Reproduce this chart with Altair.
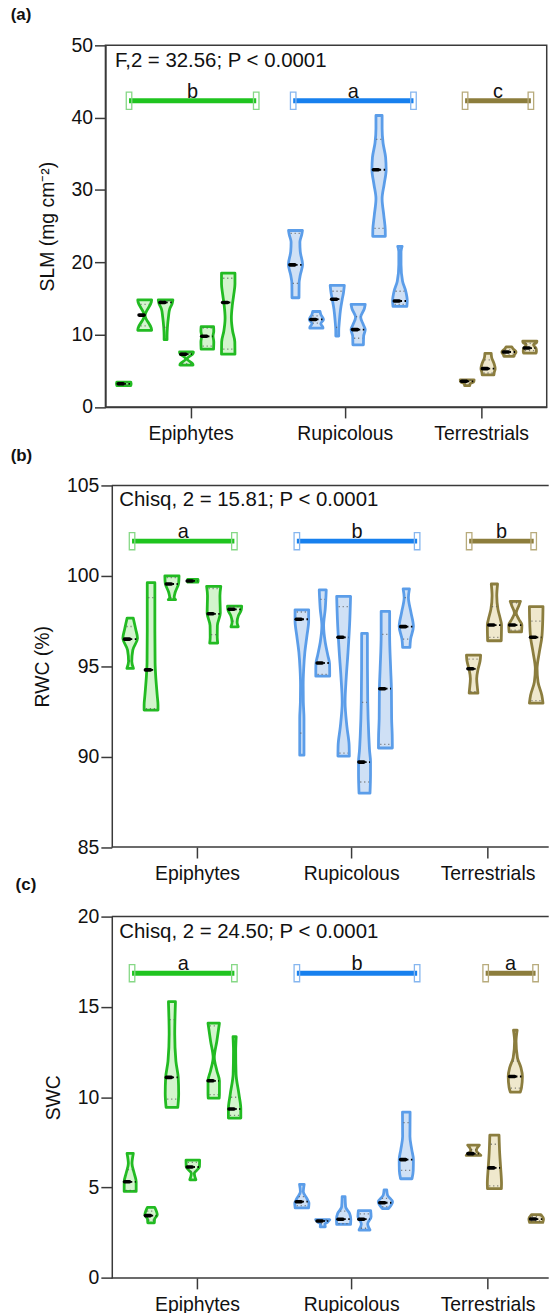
import altair as alt
import numpy as np
import pandas as pd

FONT = "Liberation Sans"
AX = "#3a3a3a"
TXT = "#111111"
SLOT_PX = 21.0      # pixels per violin slot on the x scale
HALF_W = 0.35       # max violin half-width, in slots

GROUPS = ["Epiphytes", "Rupicolous", "Terrestrials"]
GROUP_SIZES = [6, 6, 4]
VIOLIN_POS = [0.88, 1.88, 2.88, 3.88, 4.88, 5.88,
              9.1, 10.1, 11.1, 12.1, 13.1, 14.1,
              17.32, 18.32, 19.32, 20.32]
GROUP_TICKS = [4.08, 11.46, 17.99]

OUTLINE = ["#22bb22", "#5b9de9", "#8b7d3e"]
FILL = ["#d3f4cd", "#cfe0f5", "#efe8cd"]
BRACKET = ["#1fc41f", "#1780ee", "#8c7d3c"]
CAP = ["#86d886", "#86b6ef", "#b8ab7c"]

# ---------------- (a) SLM ----------------
SLM_Y = [
    [3.45, 3.2, 2.95],
    [14.8, 14.5, 12.65, 10.9, 10.6],
    [14.8, 14.3, 13.5, 12.5, 11.0, 9.8, 9.3],
    [7.6, 7.4, 6.65, 5.95, 5.8],
    [11.1, 10.5, 9.8, 9.0, 8.0],
    [18.5, 17.0, 15.5, 14.0, 12.3, 10.5, 9.0, 7.3],
    [24.4, 23.8, 22.8, 21.5, 19.7, 18.2, 17.2, 15.1],
    [13.2, 12.8, 12.1, 11.5, 11.0, 10.9],
    [16.8, 15.8, 14.9, 13.5, 12.0, 10.5, 9.8],
    [14.2, 13.6, 12.4, 11.4, 10.7, 9.8, 8.6],
    [40.3, 38.5, 36.5, 34.5, 32.8, 30.8, 28.8, 26.5, 24.5, 23.6],
    [22.2, 21.5, 19.7, 17.4, 16.0, 14.7, 13.9],
    [3.75, 3.5, 3.2, 2.95],
    [7.4, 6.8, 6.0, 5.3, 4.8, 4.45],
    [8.3, 8.0, 7.6, 7.2, 7.0],
    [9.1, 8.9, 8.6, 8.1, 7.7, 7.45],
]
SLM_W = [
    [0.95, 1.0, 0.95],
    [0.95, 0.9, 0.05, 0.9, 0.95],
    [1.0, 0.9, 0.55, 0.4, 0.25, 0.2, 0.2],
    [0.95, 0.9, 0.1, 0.85, 0.9],
    [0.85, 0.88, 0.78, 0.88, 0.85],
    [0.92, 0.92, 0.75, 0.55, 0.43, 0.6, 0.9, 0.92],
    [0.95, 0.85, 0.6, 0.65, 0.97, 0.65, 0.5, 0.48],
    [0.5, 0.6, 0.97, 0.6, 0.9, 0.9],
    [0.97, 0.85, 0.68, 0.45, 0.3, 0.2, 0.2],
    [0.97, 0.85, 0.35, 0.7, 0.97, 0.75, 0.72],
    [0.42, 0.42, 0.55, 0.9, 0.97, 0.7, 0.42, 0.65, 0.85, 0.86],
    [0.3, 0.15, 0.15, 0.36, 0.8, 1.0, 0.95],
    [0.95, 0.9, 0.4, 0.35],
    [0.43, 0.5, 0.82, 0.97, 0.85, 0.8],
    [0.4, 0.6, 0.97, 0.75, 0.7],
    [0.97, 0.9, 0.5, 0.85, 0.9, 0.85],
]
SLM_MED = [3.2, 12.7, 14.45, 7.3, 9.77, 14.45, 19.65, 12.1, 14.9, 10.7, 32.8, 14.65, 3.55, 5.3, 7.6, 8.15]
SLM_Q1 = [3.0, 11.2, 11.0, 6.0, 8.4, 8.0, 17.1, 11.6, 11.0, 9.5, 24.7, 14.2, 3.2, 4.7, 7.3, 7.8]
SLM_Q3 = [3.4, 14.2, 14.7, 7.5, 10.9, 17.8, 24.0, 12.6, 16.0, 12.5, 37.0, 16.0, 3.7, 6.5, 7.9, 8.8]

# ---------------- (b) RWC ----------------
RWC_Y = [
    [97.66, 97.06, 96.55, 95.9, 95.26, 94.88],
    [99.62, 97.0, 95.2, 94.5, 93.4, 92.85, 92.58],
    [100.0, 99.6, 99.07, 98.8, 98.68],
    [99.8, 99.72, 99.65],
    [99.42, 98.9, 97.95, 97.25, 96.6, 96.28],
    [98.32, 98.1, 97.8, 97.44, 97.18],
    [98.12, 97.5, 96.7, 95.78, 94.86, 93.94, 93.03, 92.11, 90.08],
    [99.22, 98.16, 97.24, 96.33, 95.6, 95.14, 94.68, 94.45],
    [98.87, 97.6, 95.78, 94.4, 93.03, 91.66, 90.65, 90.03],
    [96.82, 94.86, 93.03, 91.2, 90.29, 89.73, 89.0, 87.98],
    [98.04, 96.7, 94.86, 93.76, 92.11, 91.2, 90.48],
    [99.28, 98.8, 98.0, 97.2, 96.5, 96.04],
    [95.61, 95.3, 94.86, 94.31, 93.76, 93.51],
    [99.55, 98.9, 98.16, 97.6, 97.28, 96.7, 96.41],
    [98.59, 98.35, 97.95, 97.6, 97.28, 96.9],
    [98.3, 97.6, 96.6, 95.78, 94.86, 94.13, 93.4, 92.96],
]
RWC_W = [
    [0.42, 0.75, 1.0, 0.36, 0.22, 0.45],
    [0.52, 0.52, 0.55, 0.63, 0.84, 0.95, 0.95],
    [0.97, 0.92, 0.43, 0.3, 0.5],
    [0.7, 0.72, 0.68],
    [0.97, 0.85, 0.9, 0.5, 0.48, 0.55],
    [0.97, 0.9, 0.52, 0.34, 0.5],
    [0.93, 0.93, 0.7, 0.41, 0.25, 0.18, 0.2, 0.29, 0.29],
    [0.48, 0.34, 0.12, 0.34, 0.7, 0.93, 0.95, 0.95],
    [0.95, 0.85, 0.6, 0.36, 0.2, 0.45, 0.75, 0.78],
    [0.39, 0.4, 0.44, 0.58, 0.7, 0.82, 0.82, 0.75],
    [0.58, 0.58, 0.72, 0.82, 0.85, 0.93, 0.95],
    [0.43, 0.29, 0.63, 0.97, 0.59, 0.5],
    [0.97, 0.9, 0.63, 0.43, 0.54, 0.6],
    [0.43, 0.32, 0.48, 0.82, 0.97, 0.95, 0.93],
    [0.7, 0.48, 0.12, 0.48, 0.9, 0.85],
    [0.93, 0.9, 0.77, 0.43, 0.12, 0.25, 0.77, 0.93],
]
RWC_MED = [96.5, 94.8, 99.55, 99.72, 97.9, 98.15, 97.6, 95.18, 96.6, 89.7, 93.76, 97.19, 94.86, 97.28, 97.28, 96.6]
RWC_Q1 = [95.3, 92.65, 98.8, 99.68, 96.75, 97.5, 91.3, 94.55, 90.2, 88.6, 90.68, 96.5, 93.6, 96.6, 97.0, 93.1]
RWC_Q3 = [97.2, 98.8, 99.9, 99.78, 99.3, 98.3, 98.0, 98.7, 98.3, 93.0, 96.76, 98.8, 95.4, 98.3, 98.5, 97.5]

# ---------------- (c) SWC ----------------
SWC_Y = [
    [6.89, 6.33, 5.78, 5.32, 4.79],
    [3.9, 3.67, 3.49, 3.25, 3.05],
    [15.29, 13.5, 12.0, 11.1, 10.2, 9.44],
    [6.52, 6.14, 5.78, 5.43],
    [14.1, 13.11, 12.2, 11.47, 10.91, 10.2, 9.95],
    [13.35, 12.56, 11.28, 10.18, 9.35, 8.85],
    [5.18, 4.77, 4.4, 4.13, 3.88],
    [3.22, 3.1, 2.98, 2.83],
    [4.5, 3.94, 3.57, 3.25, 2.96],
    [3.72, 3.39, 2.99, 2.65],
    [4.87, 4.58, 4.22, 3.84],
    [9.18, 7.83, 7.1, 6.55, 5.95, 5.49],
    [7.35, 7.06, 6.78],
    [7.9, 6.9, 6.09, 5.21, 4.94],
    [13.71, 13.1, 12.19, 11.64, 11.15, 10.54, 10.29],
    [3.5, 3.26, 3.07],
]
SWC_W = [
    [0.43, 0.25, 0.56, 0.82, 0.82],
    [0.5, 0.75, 0.85, 0.48, 0.45],
    [0.48, 0.38, 0.54, 0.86, 0.92, 0.8],
    [0.93, 0.9, 0.2, 0.42],
    [0.78, 0.43, 0.08, 0.43, 0.78, 0.78, 0.75],
    [0.22, 0.15, 0.2, 0.59, 0.85, 0.85],
    [0.32, 0.2, 0.68, 0.97, 0.92],
    [0.97, 0.7, 0.3, 0.35],
    [0.2, 0.27, 0.82, 0.98, 0.95],
    [0.84, 0.9, 0.43, 0.75],
    [0.18, 0.29, 0.98, 0.42],
    [0.52, 0.5, 0.75, 0.97, 0.95, 0.78],
    [0.8, 0.38, 1.0],
    [0.63, 0.72, 0.85, 0.97, 0.95],
    [0.25, 0.1, 0.29, 0.77, 0.97, 0.85, 0.68],
    [0.65, 1.0, 0.9],
]
SWC_MED = [5.32, 3.45, 11.1, 6.14, 10.91, 9.35, 4.22, 3.15, 3.25, 3.25, 4.16, 6.55, 6.88, 6.09, 11.15, 3.26]
SWC_Q1 = [4.85, 3.2, 9.9, 5.9, 10.15, 9.0, 4.0, 3.0, 3.0, 2.75, 3.95, 5.95, 6.8, 5.1, 10.5, 3.15]
SWC_Q3 = [6.0, 3.7, 14.3, 6.4, 13.95, 10.0, 4.5, 3.2, 3.7, 3.55, 4.4, 8.6, 7.1, 7.4, 12.0, 3.4]

# ---------------- group brackets & letters ----------------
SLM_BR_Y, SLM_BR_X1, SLM_BR_X2, SLM_LET = 42.35, [1.13, 8.99, 17.22], [7.22, 14.75, 20.37], ["b", "a", "c"]
RWC_BR_Y, RWC_BR_X1, RWC_BR_X2, RWC_LET = 101.92, [0.97, 8.86, 17.11], [5.87, 14.62, 20.2], ["a", "b", "b"]
SWC_BR_Y, SWC_BR_X1, SWC_BR_X2, SWC_LET = 16.87, [0.97, 8.86, 17.9], [5.87, 14.62, 20.29], ["a", "b", "a"]

SLM_NOTE = "F,2 = 32.56; P < 0.0001"
RWC_NOTE = "Chisq, 2 = 15.81; P < 0.0001"
SWC_NOTE = "Chisq, 2 = 24.50; P < 0.0001"

group_of = [g for g, n in zip(GROUPS, GROUP_SIZES) for _ in range(n)]
mid1 = (GROUP_TICKS[0] + GROUP_TICKS[1]) / 2
mid2 = (GROUP_TICKS[1] + GROUP_TICKS[2]) / 2
LABEL_EXPR = (f"datum.value < {mid1} ? '{GROUPS[0]}' : "
              f"(datum.value < {mid2} ? '{GROUPS[1]}' : '{GROUPS[2]}')")


def width_at(yl, wl, v):
    order = np.argsort(yl)
    return float(np.interp(v, np.array(yl)[order], np.array(wl)[order]))


def make_panel(label, ytitle, ydomain, yticks, ys, ws, med, q1, q3,
               br_y, br_x1, br_x2, letters, note, note_x, note_y,
               width, height, shift, title_dx, title_offset, boxed, bottom_extra):
    vrows = []
    for i, (yl, wl) in enumerate(zip(ys, ws)):
        for y, w in sorted(zip(yl, wl)):
            vrows.append(dict(vid=i, group=group_of[i], c=VIOLIN_POS[i], y=y, w=w))
    vdf = pd.DataFrame(vrows)

    mrows, qrows = [], []
    for i in range(len(med)):
        c = VIOLIN_POS[i]
        hm = width_at(ys[i], ws[i], med[i]) * HALF_W
        mrows.append(dict(y=med[i], xa=c - 0.27, xb=c - 0.03, xd1=c + 0.03, xd2=c + 0.85 * hm + 0.02))
        for q in (q1[i], q3[i]):
            hq = width_at(ys[i], ws[i], q) * HALF_W
            qrows.append(dict(y=q, xa=c - 0.75 * hq, xb=c + 0.75 * hq))
    mdf = pd.DataFrame(mrows)
    qdf = pd.DataFrame(qrows)

    bdf = pd.DataFrame(dict(group=GROUPS, x1=br_x1, x2=br_x2, y=[br_y] * 3,
                            xm=[(a + b) / 2 for a, b in zip(br_x1, br_x2)], letter=letters))
    cdf = pd.DataFrame(dict(group=GROUPS * 2, x=br_x1 + br_x2, y=[br_y] * 6))
    ndf = pd.DataFrame(dict(x=[note_x], y=[note_y], t=[note]))

    x0 = -shift / SLOT_PX
    x1 = x0 + width / SLOT_PX
    fdf = pd.DataFrame(dict(xa=[0, 0], xb=[x1, x1], y=list(ydomain)))  # frame lines (b, c)

    xscale = alt.Scale(domain=[x0, x1], nice=False, zero=False)
    yscale = alt.Scale(domain=ydomain, nice=False, zero=False)
    xaxis = alt.Axis(values=GROUP_TICKS, labelExpr=LABEL_EXPR, grid=False,
                     title=" " if bottom_extra else None, titleFontSize=bottom_extra or 10,
                     titlePadding=0,
                     domain=boxed,
                     tickSize=11, tickWidth=1.5, tickColor=AX, domainColor=AX, domainWidth=1.5,
                     labelFontSize=19.5, labelFont=FONT, labelColor=TXT, labelPadding=7,
                     labelOverlap=False, labelFlush=False)
    yaxis = alt.Axis(values=yticks, title=ytitle, grid=False, format="d", offset=-shift,
                     tickSize=11, tickWidth=1.5, tickColor=AX, domainColor=AX, domainWidth=1.5,
                     labelFontSize=19.5, labelFont=FONT, labelColor=TXT, labelPadding=2,
                     titleFontSize=19.5, titleFont=FONT, titleColor=TXT, titleFontWeight="normal",
                     titlePadding=14)

    def X(field):
        return alt.X(field, scale=xscale, axis=xaxis)

    def Y(field):
        return alt.Y(field, scale=yscale, axis=yaxis)

    violins = alt.Chart(vdf).transform_calculate(
        xl=f"datum.c - datum.w * {HALF_W}", xr=f"datum.c + datum.w * {HALF_W}"
    ).mark_area(orient="horizontal", interpolate="monotone", strokeWidth=2.8,
                strokeJoin="round").encode(
        x=X("xl:Q"),
        x2="xr:Q",
        y=Y("y:Q"),
        fill=alt.Fill("group:N", scale=alt.Scale(domain=GROUPS, range=FILL), legend=None),
        stroke=alt.Stroke("group:N", scale=alt.Scale(domain=GROUPS, range=OUTLINE), legend=None),
        detail="vid:N",
    )
    quart = alt.Chart(qdf).mark_rule(color="#555555", strokeWidth=1.3, strokeDash=[1.2, 2.8],
                                     opacity=0.7).encode(x=X("xa:Q"), x2="xb:Q", y=Y("y:Q"))
    med_dots = alt.Chart(mdf).mark_rule(color="#000000", strokeWidth=1.8,
                                        strokeDash=[1.5, 2.5]).encode(x=X("xd1:Q"), x2="xd2:Q", y=Y("y:Q"))
    med_dash = alt.Chart(mdf).mark_rule(color="#000000", strokeWidth=3.6, strokeCap="round").encode(
        x=X("xa:Q"), x2="xb:Q", y=Y("y:Q"))
    brackets = alt.Chart(bdf).mark_rule(strokeWidth=5).encode(
        x=X("x1:Q"), x2="x2:Q", y=Y("y:Q"),
        stroke=alt.Stroke("group:N", scale=alt.Scale(domain=GROUPS, range=BRACKET), legend=None))
    caps = alt.Chart(cdf).mark_point(shape="M-0.32,-1H0.32V1H-0.32Z", size=300, filled=False,
                                     strokeWidth=1.3, opacity=1).encode(
        x=X("x:Q"), y=Y("y:Q"),
        stroke=alt.Stroke("group:N", scale=alt.Scale(domain=GROUPS, range=CAP), legend=None))
    lets = alt.Chart(bdf).mark_text(dy=-3, baseline="alphabetic", fontSize=20, font=FONT,
                                    color=TXT).encode(x=X("xm:Q"), y=Y("y:Q"), text="letter:N")
    note_t = alt.Chart(ndf).mark_text(align="left", baseline="middle", fontSize=20.5, font=FONT,
                                      color=TXT).encode(x=X("x:Q"), y=Y("y:Q"), text="t:N")
    layers = [violins, quart, med_dots, med_dash, brackets, caps, lets, note_t]
    if not boxed:
        layers.append(alt.Chart(fdf).mark_rule(color=AX, strokeWidth=1.5).encode(
            x=X("xa:Q"), x2="xb:Q", y=Y("y:Q")))

    props = dict(width=width, height=height,
                 title=alt.TitleParams(text=label, anchor="start", frame="group", dx=title_dx,
                                       offset=title_offset, fontSize=17, fontWeight="bold",
                                       font=FONT, color=TXT, baseline="alphabetic"))
    if boxed:
        props["view"] = alt.ViewBackground(stroke=AX, strokeWidth=1.5)
    return alt.layer(*layers).resolve_scale(
        stroke="independent", fill="independent").properties(**props)


PAD_L = 9
ORIGIN = 104.3          # left edge of every panel's plot group
SHIFT_BC = 6.4          # (b) and (c) axes sit this much further right
pa = make_panel("(a)", "SLM (mg cm\u207b\u00b2)", [0, 50], [0, 10, 20, 30, 40, 50],
                SLM_Y, SLM_W, SLM_MED, SLM_Q1, SLM_Q3,
                SLM_BR_Y, SLM_BR_X1, SLM_BR_X2, SLM_LET, SLM_NOTE, 0.46, 47.9,
                443.7, 363.6, 0, -(ORIGIN - PAD_L), -2, True, 12)
pb = make_panel("(b)", "RWC (%)", [85, 105], [85, 90, 95, 100, 105],
                RWC_Y, RWC_W, RWC_MED, RWC_Q1, RWC_Q3,
                RWC_BR_Y, RWC_BR_X1, RWC_BR_X2, RWC_LET, RWC_NOTE, 0.36, 104.17,
                445.7, 363.6, SHIFT_BC, -(ORIGIN - PAD_L), -2, False, 0)
pc = make_panel("(c)", "SWC", [0, 20], [0, 5, 10, 15, 20],
                SWC_Y, SWC_W, SWC_MED, SWC_Q1, SWC_Q3,
                SWC_BR_Y, SWC_BR_X1, SWC_BR_X2, SWC_LET, SWC_NOTE, 0.36, 19.13,
                445.7, 363.3, SHIFT_BC, -(ORIGIN - 14), -0.7, False, 0)

chart = alt.vconcat(pa, pb, pc, spacing=-8.5).properties(
    padding={"left": PAD_L, "top": 2, "right": 0, "bottom": 0},
    background="white",
).configure_view(strokeWidth=0)

chart.save("out.html", embed_options={"renderer": "svg", "actions": False})
